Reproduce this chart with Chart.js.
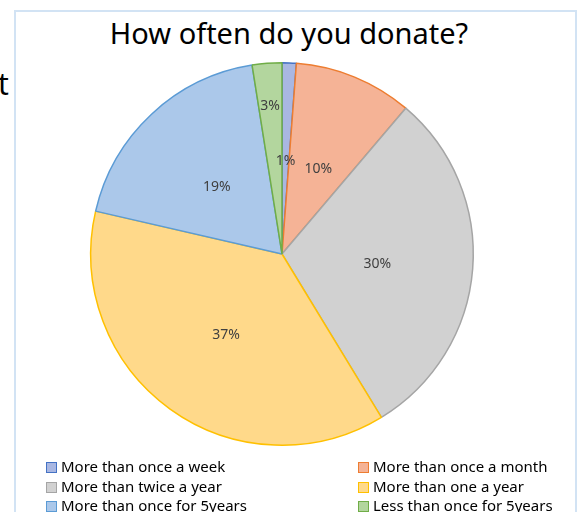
<!DOCTYPE html>
<html>
<head>
<meta charset="utf-8">
<script src="https://cdn.jsdelivr.net/npm/chart.js@4.4.0/dist/chart.umd.min.js"></script>
<style>
  html, body { margin: 0; padding: 0; background: #fff; }
  body { width: 579px; height: 512px; position: relative; overflow: hidden; font-family: "Noto Sans", "Open Sans", sans-serif; }
  #frame { position: absolute; left: 14px; top: 10px; width: 559px; height: 560px; border: 2px solid #d2e3f4; }
  #cut { position: absolute; left: -2px; top: 63px; font-size: 30px; color: #000; }
  #title { position: absolute; left: 0; top: 13px; width: 578px; text-align: center; font-size: 29px; color: #000; }
  #chartBox { position: absolute; left: 0; top: 0; width: 579px; height: 512px; }
  #legend { position: absolute; left: 0; top: 0; font-size: 15px; color: #000; }
  .item { position: absolute; white-space: nowrap; line-height: 18px; }
  .sw { display: inline-block; width: 9px; height: 9px; border: 1px solid; margin-right: 4px; vertical-align: -1px; }
</style>
</head>
<body>
<div id="frame"></div>
<div id="cut">t</div>
<div id="title">How often do you donate?</div>
<div id="chartBox"><canvas id="pie" width="579" height="512"></canvas></div>
<div id="legend"></div>

<script>
// Data (shares in percent)
const categories = [
    'More than once a week',
    'More than once a month',
    'More than twice a year',
    'More than one a year',
    'More than once for 5years',
    'Less than once for 5years'
];
const shares = [1.2, 10.0, 30.1, 37.3, 18.9, 2.5];

// Office-style colours: light fill, darker outline
const fillColors = ['#a9b7e2', '#f5b396', '#d1d1d1', '#ffd98a', '#abc8ea', '#b3d69e'];
const lineColors = ['#4472c4', '#ed7d31', '#a5a5a5', '#ffc000', '#5b9bd5', '#70ad47'];

// how far out each percentage label sits (fraction of radius)
const labelRadius = [0.5, 0.5, 0.5, 0.5, 0.5, 0.79];

// Draw the percentage labels inside the slices
const pctLabels = {
    id: 'pctLabels',
    afterDatasetsDraw(chart) {
        const ctx = chart.ctx;
        const meta = chart.getDatasetMeta(0);
        const total = shares.reduce((a, b) => a + b, 0);
        ctx.save();
        ctx.font = '14px "Noto Sans", sans-serif';
        ctx.fillStyle = '#404040';
        ctx.textAlign = 'center';
        ctx.textBaseline = 'middle';
        meta.data.forEach(function(arc, i) {
            const p = arc.getProps(['x', 'y', 'startAngle', 'endAngle', 'outerRadius'], true);
            const mid = (p.startAngle + p.endAngle) / 2;
            const r = p.outerRadius * labelRadius[i];
            const txt = Math.round(shares[i] / total * 100) + '%';
            ctx.fillText(txt, p.x + Math.cos(mid) * r, p.y + Math.sin(mid) * r + 3);
        });
        ctx.restore();
    }
};

const ctx = document.getElementById('pie').getContext('2d');
const pieChart = new Chart(ctx, {
    type: 'pie',
    data: {
        labels: categories,
        datasets: [{
            data: shares,
            backgroundColor: fillColors,
            borderColor: lineColors,
            borderWidth: 1.5
        }]
    },
    options: {
        responsive: false,
        animation: false,
        layout: {
            padding: { top: 62, bottom: 66, left: 90, right: 105 }
        },
        plugins: {
            legend: { display: false },
            tooltip: { enabled: false },
            title: { display: false }
        }
    },
    plugins: [pctLabels]
});

// Legend in two columns, same order as the data
const legendBox = document.getElementById('legend');
const colX = [46, 358];
const rowY = [457, 477, 496];
categories.forEach(function(name, i) {
    const el = document.createElement('div');
    el.className = 'item';
    el.style.left = colX[i % 2] + 'px';
    el.style.top = rowY[Math.floor(i / 2)] + 'px';
    el.innerHTML = '<span class="sw" style="background:' + fillColors[i] + ';border-color:' + lineColors[i] + '"></span>' + name;
    legendBox.appendChild(el);
});
</script>
</body>
</html>
